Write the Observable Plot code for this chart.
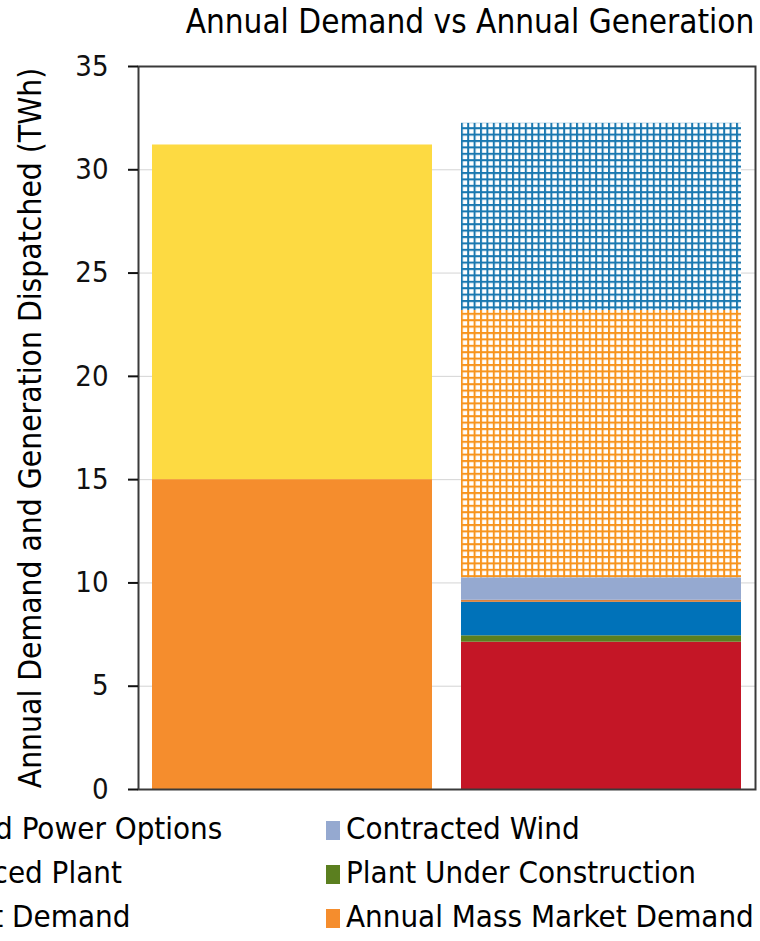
<!DOCTYPE html>
<html>
<head>
<meta charset="utf-8">
<script src="https://cdn.jsdelivr.net/npm/d3@7"></script>
<script src="https://cdn.jsdelivr.net/npm/@observablehq/plot@0.6"></script>
<style>
  html, body { margin: 0; padding: 0; background: #fff; overflow: hidden; }
  body { width: 760px; height: 941px; position: relative;
         font-family: "DejaVu Sans Condensed", "DejaVu Sans", sans-serif; font-stretch: condensed; color: #000; }
  #title { position: absolute; top: 0; left: 170px; width: 600px; height: 44px; line-height: 44px;
           text-align: center; font-size: 33px; white-space: nowrap; }
  #chart { position: absolute; top: 44px; left: 0; }
  #legend { position: absolute; top: 806px; left: 0; width: 760px; height: 135px; }
  .item { position: absolute; height: 44px; line-height: 44px; font-size: 31px; white-space: nowrap; }
  .swatch { display: inline-block; width: 14px; height: 19px; margin-right: 6px; vertical-align: -1px; }
</style>
</head>
<body>
<div id="title">Annual Demand  vs Annual Generation</div>
<div id="chart"></div>
<div id="legend"></div>
<script>
// Two stacked columns: annual demand and annual generation dispatched (TWh)
const bars = ["Annual Demand", "Annual Generation"];

const demandSeries = ["Annual Mass Market Demand", "Key Contract Demand"];
const demandValues = [15.0, 16.2];

const generationSeries = [
  "Locally Sourced Plant",
  "Plant Under Construction",
  "Contracted Thermal",
  "Contracted Solar",
  "Contracted Wind",
  "Uncontracted Energy Options",
  "Uncontracted Power Options"
];
const generationValues = [7.13, 0.31, 1.62, 0.10, 1.09, 12.94, 9.06];

const seriesNames = [...demandSeries, ...generationSeries];
const seriesFills = [
  "#F58D2D", "#FDDA42",
  "#C41626", "#5B7F1F", "#0072B9", "#D8823E", "#95A9D0",
  "url(#grid-orange)", "url(#grid-blue)"
];

const yTicks = [0, 5, 10, 15, 20, 25, 30, 35];
const yLabel = "Annual Demand and Generation Dispatched (TWh)";

// legend: [left column, right column] per row
const legendLeft = ["Uncontracted Power Options", "Locally Sourced Plant", "Key Contract Demand"];
const legendRight = ["Contracted Wind", "Plant Under Construction", "Annual Mass Market Demand"];

const rows = [
  ...demandSeries.map((s, i) => ({bar: bars[0], series: s, value: demandValues[i]})),
  ...generationSeries.map((s, i) => ({bar: bars[1], series: s, value: generationValues[i]}))
];

const chart = Plot.plot({
  width: 760,
  height: 762,
  marginLeft: 138,
  marginRight: 5,
  marginTop: 22,
  marginBottom: 17,
  style: "font-family: 'DejaVu Sans Condensed', 'DejaVu Sans', sans-serif; font-stretch: condensed; background: #fff; overflow: visible;",
  x: {domain: bars, paddingInner: 0.094, paddingOuter: 0.045, axis: null},
  y: {domain: [0, 35], label: null},
  color: {domain: seriesNames, range: seriesFills},
  marks: [
    Plot.gridY(yTicks, {stroke: "#d4d4d4", strokeOpacity: 1, strokeWidth: 1}),
    Plot.barY(rows, {x: "bar", y: "value", fill: "series", order: null}),
    Plot.frame({stroke: "#3a3a3a", strokeWidth: 2}),
    Plot.axisY(yTicks, {label: null, tickSize: 10, tickPadding: 20, fontSize: 29, color: "#111", strokeWidth: 2}),
    Plot.text([yLabel], {text: d => d, frameAnchor: "left", textAnchor: "middle", dx: -108, rotate: -90, fontSize: 31.5, fill: "#000"})
  ]
});

// grid hatch fills for the uncontracted segments
const defs = d3.select(chart).insert("defs", ":first-child");
[["grid-orange", "#F7941D"], ["grid-blue", "#1A78B0"]].forEach(([id, c]) => {
  const p = defs.append("pattern").attr("id", id)
    .attr("patternUnits", "userSpaceOnUse").attr("width", 6.4).attr("height", 6.4);
  p.append("rect").attr("width", 6.4).attr("height", 6.4).attr("fill", "#fff");
  p.append("path").attr("d", "M0 1H6.4M1 0V6.4")
    .attr("stroke", c).attr("stroke-width", 2).attr("fill", "none");
});

document.getElementById("chart").appendChild(chart);

const colorOf = s => seriesFills[seriesNames.indexOf(s)];
const legend = d3.select("#legend");
function addItem(name, left, row) {
  const fill = colorOf(name);
  const item = legend.append("div").attr("class", "item")
    .style("left", left + "px").style("top", row * 44 + "px");
  if (fill.startsWith("url")) {
    const sw = item.append("svg").attr("class", "swatch").attr("width", 14).attr("height", 19);
    sw.append("rect").attr("width", 14).attr("height", 19).attr("fill", "#1A78B0");
  } else {
    item.append("span").attr("class", "swatch").style("background", fill);
  }
  item.append("span").text(name);
}
legendLeft.forEach((n, i) => addItem(n, -196, i));
legendRight.forEach((n, i) => addItem(n, 326, i));
</script>
</body>
</html>
